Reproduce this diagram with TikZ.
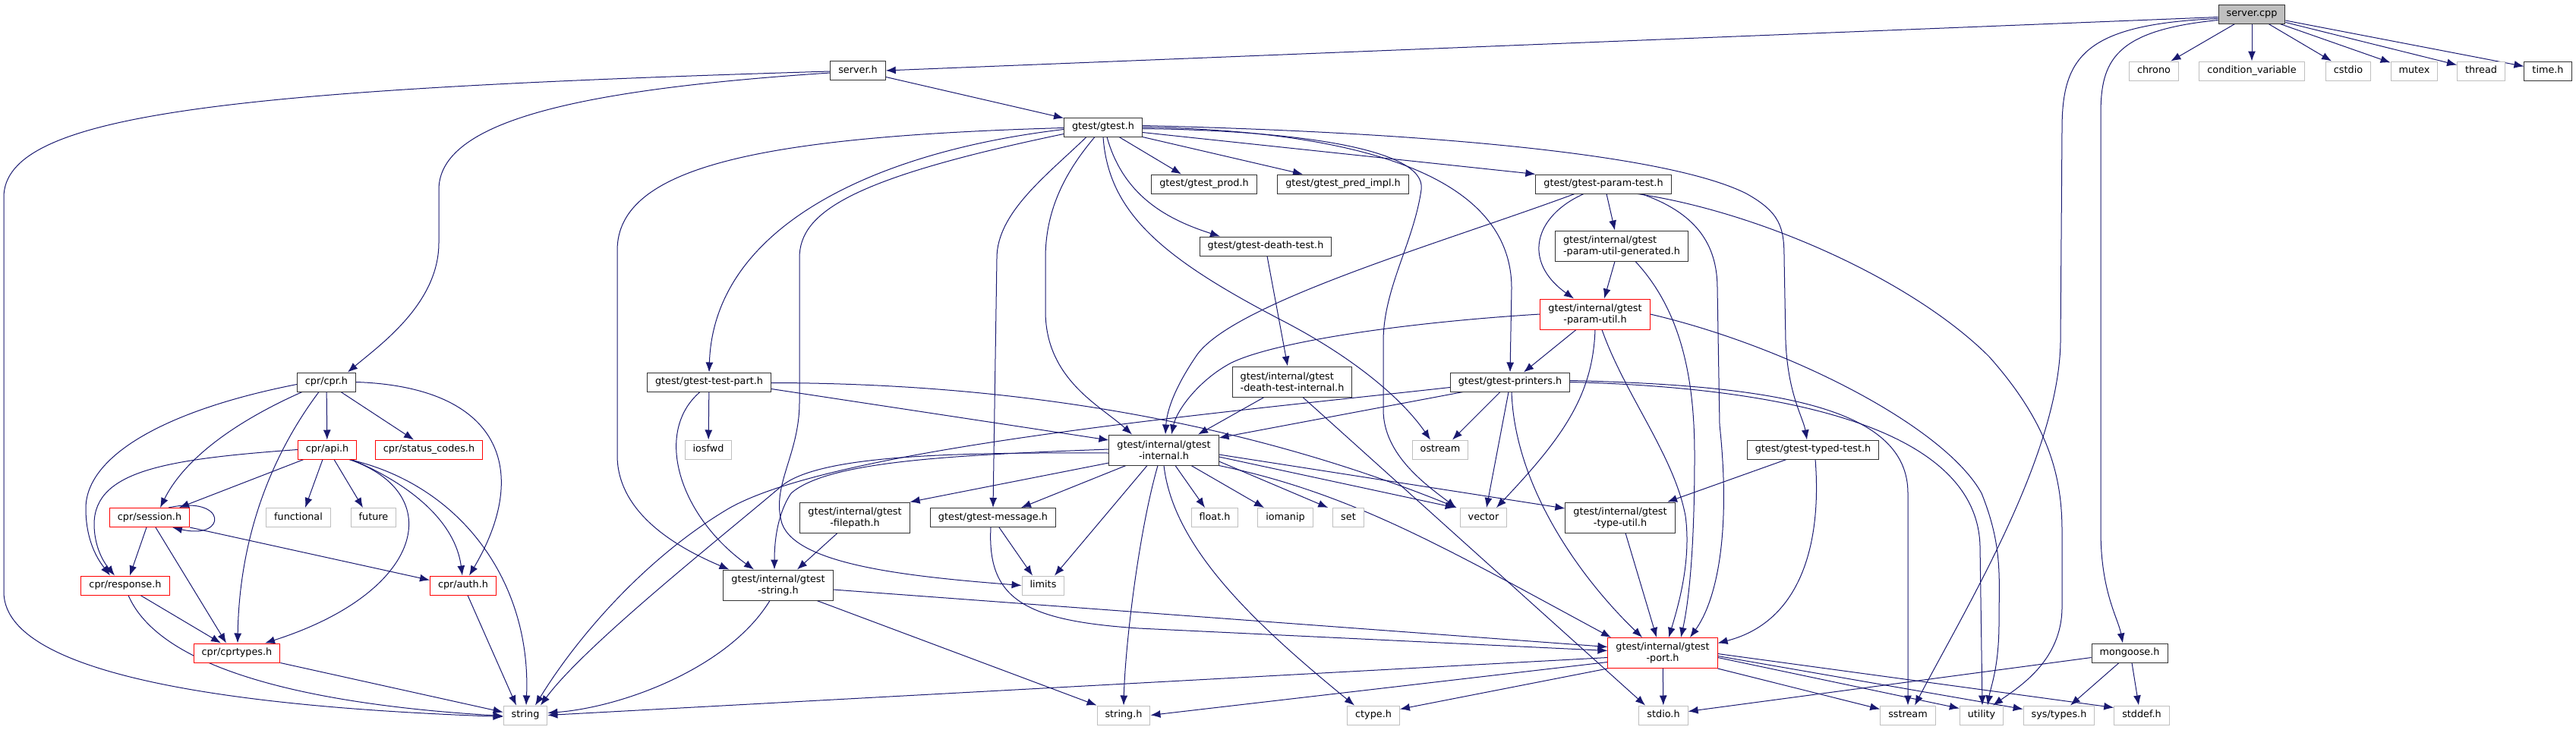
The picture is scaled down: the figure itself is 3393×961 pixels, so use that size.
\documentclass[tikz,border=0pt]{standalone}
\usepackage{fontspec}
\setmainfont{DejaVu Sans}
\usepackage{tikz}
\usetikzlibrary{arrows.meta}
\pgfdeclarelayer{background}
\pgfsetlayers{background,main}
\definecolor{edgeblue}{HTML}{191970}
\definecolor{docline}{HTML}{333333}
\definecolor{sysline}{HTML}{BFBFBF}
\definecolor{cutline}{HTML}{FF0000}
\definecolor{rootfill}{HTML}{BFBFBF}
\newcommand{\nodefont}{\fontsize{12.8}{15}\selectfont}
\tikzstyle{hbox} = [fill=white, font=\nodefont, inner xsep=10.5pt, inner ysep=0pt, line width=1pt]
\tikzstyle{onebox} = [hbox, minimum height=25pt, text height=9.6pt, text depth=3pt]
\tikzstyle{pairbox} = [hbox, minimum height=40pt, align=center]
\tikzstyle{dochdr} = [onebox, draw=docline]
\tikzstyle{syshdr} = [onebox, draw=sysline]
\tikzstyle{cuthdr} = [onebox, draw=cutline]
\tikzstyle{rootfile} = [onebox, draw=docline, fill=rootfill]
\tikzstyle{docpair} = [pairbox, draw=docline]
\tikzstyle{cutpair} = [pairbox, draw=cutline]
\tikzstyle{line} = [draw, line width=1pt, color=edgeblue, -{Latex[length=13pt,width=10pt]}]
\newcommand{\rootfile}[2]{node (#1)[rootfile]{#2}}
\newcommand{\dochdr}[2]{node (#1)[dochdr]{#2}}
\newcommand{\syshdr}[2]{node (#1)[syshdr]{#2}}
\newcommand{\cuthdr}[2]{node (#1)[cuthdr]{#2}}
\newcommand{\docpair}[2]{node (#1)[docpair]{#2}}
\newcommand{\docpairl}[2]{node (#1)[docpair,align=left]{#2}}
\newcommand{\cutpair}[2]{node (#1)[cutpair]{#2}}

\begin{document}
\begin{tikzpicture}[x=1pt,y=-1pt]
	\useasboundingbox (0,0) rectangle (3393,961);

	% Draw diagram elements
	\path (2966,18.5) \rootfile{sc}{server.cpp};
	\path (2837,93.5) \syshdr{chrono}{chrono};
	\path (2966,93.5) \syshdr{condvar}{condition\_variable};
	\path (3093,93.5) \syshdr{cstdio}{cstdio};
	\path (3180,93.5) \syshdr{mutex}{mutex};
	\path (3268,93.5) \syshdr{thread}{thread};
	\path (3356,93.5) \dochdr{timeh}{time.h};
	\path (1130,93) \dochdr{serverh}{server.h};
	\path (1453,167.5) \dochdr{gtest}{gtest/gtest.h};
	\path (1586,242.5) \dochdr{prod}{gtest/gtest\_prod.h};
	\path (1769,242.5) \dochdr{predimpl}{gtest/gtest\_pred\_impl.h};
	\path (2112,242.5) \dochdr{paramtest}{gtest/gtest-param-test.h};
	\path (1667,324.5) \dochdr{deathtest}{gtest/gtest-death-test.h};
	\path (2136,324) \docpairl{generated}{gtest/internal/gtest\\-param-util-generated.h};
	\path (2101,414) \cutpair{paramutil}{gtest/internal/gtest\\-param-util.h};
	\path (1702,503) \docpairl{deathint}{gtest/internal/gtest\\-death-test-internal.h};
	\path (1989,503.5) \dochdr{printers}{gtest/gtest-printers.h};
	\path (934,503.5) \dochdr{testpart}{gtest/gtest-test-part.h};
	\path (430,503.5) \dochdr{cpr}{cpr/cpr.h};
	\path (431,592.5) \cuthdr{api}{cpr/api.h};
	\path (565,592.5) \cuthdr{status}{cpr/status\_codes.h};
	\path (933,592.5) \syshdr{iosfwd}{iosfwd};
	\path (1533,593) \docpair{internal}{gtest/internal/gtest\\-internal.h};
	\path (2388,592.5) \dochdr{typedtest}{gtest/gtest-typed-test.h};
	\path (1897,592.5) \syshdr{ostream}{ostream};
	\path (197,682) \cuthdr{session}{cpr/session.h};
	\path (393,682) \syshdr{functional}{functional};
	\path (492,682) \syshdr{future}{future};
	\path (1126,682) \docpair{filepath}{gtest/internal/gtest\\-filepath.h};
	\path (1308,682) \dochdr{message}{gtest/gtest-message.h};
	\path (1600,682) \syshdr{floath}{float.h};
	\path (1693,682) \syshdr{iomanip}{iomanip};
	\path (1776,682) \syshdr{set}{set};
	\path (1954,682) \syshdr{vector}{vector};
	\path (2134,682) \docpair{typeutil}{gtest/internal/gtest\\-type-util.h};
	\path (165,771.5) \cuthdr{response}{cpr/response.h};
	\path (610,771.5) \cuthdr{auth}{cpr/auth.h};
	\path (1374,771.5) \syshdr{limits}{limits};
	\path (1025,771) \docpair{gstring}{gtest/internal/gtest\\-string.h};
	\path (312,860.5) \cuthdr{cprtypes}{cpr/cprtypes.h};
	\path (2190,860.5) \cutpair{port}{gtest/internal/gtest\\-port.h};
	\path (2805,860.5) \dochdr{mongoose}{mongoose.h};
	\path (692,942.5) \syshdr{string}{string};
	\path (1480,942.5) \syshdr{stringh}{string.h};
	\path (1809,942.5) \syshdr{ctype}{ctype.h};
	\path (2191,942.5) \syshdr{stdio}{stdio.h};
	\path (2513,942.5) \syshdr{sstream}{sstream};
	\path (2610,942.5) \syshdr{utility}{utility};
	\path (2712,942.5) \syshdr{systypes}{sys/types.h};
	\path (2821,942.5) \syshdr{stddef}{stddef.h};

	% Draw arrows between elements
	\begin{pgfonlayer}{background}
	% server.cpp
	\path [line] ([yshift=-4pt]sc.west) -- (serverh.east);
	\path [line] (sc) -- (chrono);
	\path [line] (sc) -- (condvar);
	\path [line] (sc) -- (cstdio);
	\path [line] (sc) -- (mutex);
	\path [line] (sc) -- (thread);
	\path [line] (sc) -- (timeh);
	\path [line] ([yshift=-6pt]sc.west) .. controls (2745,32) and (2716,75) .. (2716,170) -- (2714,450) .. controls (2712,600) and (2590,800) .. ([xshift=9pt]sstream.north);
	\path [line] ([yshift=-8pt]sc.west) .. controls (2785,40) and (2767,80) .. (2767,150) -- (2767,700) .. controls (2767,780) and (2790,815) .. ([xshift=-9pt]mongoose.north);
	% server.h
	\path [line] (serverh) -- (gtest);
	\path [line] ([yshift=-3pt]serverh.west) .. controls (760,118) and (578,160) .. (578,250) -- (578,320) .. controls (578,400) and (500,455) .. ([xshift=28pt]cpr.north);
	\path [line] ([yshift=-1pt]serverh.west) .. controls (300,118) and (5,150) .. (5,260) -- (5,780) .. controls (5,905) and (400,935) .. ([yshift=-2pt]string.west);
	% gtest.h
	\path [line] ([yshift=-3pt]gtest.west) .. controls (1150,200) and (940,300) .. (testpart.north);
	\path [line] ([yshift=-1pt]gtest.west) .. controls (1000,180) and (813,220) .. (813,330) -- (813,600) .. controls (813,680) and (900,725) .. ([xshift=8pt]gstring.north west);
	\path [line] ([yshift=-9pt]gtest.west) .. controls (1120,235) and (1053,280) .. (1053,340) -- (1053,530) .. controls (1053,600) and (1015,640) .. (1030,690) .. controls (1050,745) and (1200,760) .. (limits.west);
	\path [line] ([xshift=-22pt]gtest.south) .. controls (1380,230) and (1313,280) .. (1313,340) -- (message.north);
	\path [line] ([xshift=-11pt]gtest.south) .. controls (1400,230) and (1377,280) .. (1377,340) -- (1377,410) .. controls (1377,500) and (1450,535) .. ([xshift=-42pt]internal.north);
	\path [line] (gtest.south) .. controls (1460,280) and (1530,340) .. (1690,423) .. controls (1790,475) and (1850,530) .. ([xshift=-13pt]ostream.north);
	\path [line] ([xshift=5pt]gtest.south) .. controls (1480,260) and (1540,290) .. ([xshift=-60pt]deathtest.north);
	\path [line] ([xshift=21pt]gtest.south) -- ([xshift=-30pt]prod.north);
	\path [line] (gtest.south east) -- ([xshift=-53pt]predimpl.north);
	\path [line] ([yshift=-7pt]gtest.east) -- (paramtest.north west);
	\path [line] ([yshift=-2pt]gtest.east) .. controls (1700,172) and (1880,195) .. (1872,250) .. controls (1862,320) and (1822,380) .. (1822,450) -- (1822,540) .. controls (1822,600) and (1880,640) .. ([xshift=-5pt]vector.north west);
	\path [line] (gtest.east) .. controls (1760,172) and (1991,220) .. (1991,380) -- (printers.north);
	\path [line] ([yshift=2pt]gtest.east) .. controls (1900,175) and (2200,205) .. (2300,255) .. controls (2345,280) and (2350,300) .. (2350,340) -- (2352,450) .. controls (2355,520) and (2375,550) .. ([xshift=-8pt]typedtest.north);
	% gtest-param-test.h
	\path [line] ([xshift=-38pt]paramtest.south) .. controls (1900,320) and (1620,400) .. (1575,470) .. controls (1548,510) and (1537,540) .. ([xshift=2pt]internal.north);
	\path [line] ([xshift=4pt]paramtest.south) -- ([xshift=-9pt]generated.north);
	\path [line] ([xshift=-26pt]paramtest.south) .. controls (2020,285) and (2005,345) .. ([xshift=-28pt]paramutil.north);
	\path [line] ([xshift=50pt]paramtest.south) .. controls (2232,280) and (2262,320) .. (2262,380) -- (2265,560) .. controls (2280,700) and (2262,790) .. ([xshift=36pt]port.north);
	\path [line] ([xshift=45pt]paramtest.south) .. controls (2320,280) and (2520,370) .. (2620,470) .. controls (2700,560) and (2716,630) .. (2716,700) -- (2716,800) .. controls (2716,870) and (2660,905) .. ([xshift=15pt]utility.north);
	% gtest-param-util-generated.h
	\path [line] ([xshift=-9pt]generated.south) -- ([xshift=12pt]paramutil.north);
	\path [line] ([xshift=18pt]generated.south) .. controls (2215,410) and (2232,500) .. (2232,600) .. controls (2232,720) and (2225,790) .. ([xshift=24pt]port.north);
	% gtest-param-util.h
	\path [line] ([xshift=-25pt]paramutil.south) -- ([xshift=18pt]printers.north);
	\path [line] (paramutil.west) .. controls (1850,425) and (1680,450) .. (1622,478) .. controls (1580,500) and (1550,540) .. ([xshift=10pt]internal.north);
	\path [line] (paramutil.south) .. controls (2098,520) and (2060,575) .. ([xshift=17pt]vector.north);
	\path [line] ([xshift=9pt]paramutil.south) .. controls (2140,520) and (2205,600) .. (2220,680) .. controls (2228,740) and (2210,800) .. ([xshift=8pt]port.north);
	\path [line] (paramutil.east) .. controls (2350,455) and (2560,560) .. (2610,650) .. controls (2638,720) and (2633,760) .. (2633,820) .. controls (2633,880) and (2622,905) .. ([xshift=8pt]utility.north);
	% gtest-death-test.h
	\path [line] ([xshift=2pt]deathtest.south) -- ([xshift=-6pt]deathint.north);
	\path [line] ([xshift=-37pt]deathint.south) -- ([xshift=45pt]internal.north);
	\path [line] ([xshift=14pt]deathint.south) -- ([xshift=-24pt]stdio.north);
	% gtest-printers.h
	\path [line] ([xshift=-13pt]printers.south) -- ([xshift=16pt]ostream.north);
	\path [line] ([xshift=-2pt]printers.south) -- ([xshift=4pt]vector.north);
	\path [line] ([xshift=2pt]printers.south) .. controls (1995,640) and (2080,760) .. ([xshift=-27pt]port.north);
	\path [line] ([xshift=-62pt]printers.south) -- ([yshift=16pt]internal.east);
	\path [line] ([yshift=-7pt]printers.west) .. controls (1600,545) and (1100,590) .. (960,670) .. controls (850,735) and (760,840) .. ([xshift=13pt]string.north);
	\path [line] ([yshift=2pt]printers.east) .. controls (2350,508) and (2513,540) .. (2513,650) -- (sstream.north);
	\path [line] (printers.east) .. controls (2400,512) and (2605,580) .. (2608,720) -- ([xshift=1pt]utility.north);
	% gtest-test-part.h
	\path [line] (testpart) -- (iosfwd);
	\path [line] ([yshift=-9pt]testpart.east) -- ([yshift=13pt]internal.west);
	\path [line] ([yshift=-1pt]testpart.east) .. controls (1350,505) and (1650,560) .. ([xshift=-4pt]vector.north west);
	\path [line] ([xshift=-12pt]testpart.south) .. controls (860,570) and (895,680) .. ([xshift=-32pt]gstring.north);
	% cpr.h
	\path [line] ([yshift=-3pt]cpr.west) .. controls (220,540) and (113,600) .. (113,670) .. controls (113,720) and (135,745) .. ([xshift=-20pt]response.north);
	\path [line] ([xshift=-32pt]cpr.south) .. controls (300,560) and (240,610) .. ([xshift=14pt]session.north);
	\path [line] ([xshift=-10pt]cpr.south) .. controls (350,610) and (315,720) .. ([xshift=1pt]cprtypes.north);
	\path [line] (cpr) -- (api);
	\path [line] ([xshift=19pt]cpr.south) -- ([xshift=-20pt]status.north);
	\path [line] (cpr.east) .. controls (660,510) and (700,620) .. ([xshift=8pt]auth.north);
	% api.h
	\path [line] (api.west) .. controls (220,605) and (125,620) .. (124,690) .. controls (124,725) and (140,745) .. ([xshift=-14pt]response.north);
	\path [line] ([xshift=-31pt]api.south) -- ([xshift=39pt]session.north);
	\path [line] ([xshift=-6pt]api.south) -- ([xshift=9pt]functional.north);
	\path [line] ([xshift=9pt]api.south) -- ([xshift=-14pt]future.north);
	\path [line] ([xshift=29pt]api.south) .. controls (610,640) and (700,770) .. ([xshift=1pt]string.north);
	\path [line] ([xshift=32pt]api.south) .. controls (545,640) and (600,690) .. ([xshift=-1pt]auth.north);
	\path [line] ([xshift=29pt]api.south) .. controls (590,650) and (560,780) .. ([xshift=37pt]cprtypes.north);
	% session.h
	\path [line] ([xshift=25pt]session.north) .. controls (300,652) and (300,712) .. ([xshift=30pt]session.south);
	\path [line] ([xshift=-4pt]session.south) -- ([xshift=6pt]response.north);
	\path [line] ([xshift=8pt]session.south) -- ([xshift=-14pt]cprtypes.north);
	\path [line] (session.south east) -- ([yshift=7pt]auth.west);
	% response.h, cprtypes.h, auth.h
	\path [line] ([xshift=20pt]response.south) -- ([xshift=-21pt]cprtypes.north);
	\path [line] ([xshift=4pt]response.south) .. controls (210,880) and (400,928) .. ([yshift=-1pt]string.west);
	\path [line] (cprtypes.south east) -- ([yshift=4pt]string.west);
	\path [line] ([xshift=6pt]auth.south) -- ([xshift=-12pt]string.north);
	% gtest-internal.h
	\path [line] ([yshift=-17pt]internal.west) -- (filepath.north east);
	\path [line] ([xshift=-50pt]internal.south) -- ([xshift=37pt]message.north);
	\path [line] ([xshift=-22pt]internal.south) -- ([xshift=15pt]limits.north);
	\path [line] ([xshift=-8pt]internal.south) .. controls (1500,700) and (1482,850) .. (stringh.north);
	\path [line] (internal.south) .. controls (1545,720) and (1650,820) .. ([xshift=-25pt]ctype.north);
	\path [line] ([xshift=15pt]internal.south) -- ([xshift=-13pt]floath.north);
	\path [line] ([xshift=36pt]internal.south) -- ([xshift=-28pt]iomanip.north);
	\path [line] ([yshift=-15pt]internal.east) -- ([xshift=-6pt]set.north west);
	\path [line] ([yshift=-9pt]internal.east) -- ([xshift=-6pt]vector.north west);
	\path [line] ([yshift=-6pt]internal.east) -- ([yshift=12pt]typeutil.west);
	\path [line] (internal.south east) .. controls (1780,650) and (1900,720) .. ([xshift=-68pt]port.north);
	\path [line] ([yshift=1pt]internal.west) .. controls (1250,600) and (1090,608) .. (1042,650) .. controls (1022,680) and (1020,720) .. ([xshift=-5pt]gstring.north);
	\path [line] ([yshift=-4pt]internal.west) .. controls (1250,596) and (1080,600) .. (1030,640) .. controls (960,700) and (770,850) .. ([xshift=20pt]string.north);
	% gtest-filepath.h, gtest-message.h
	\path [line] ([xshift=-23pt]filepath.south) -- ([xshift=25pt]gstring.north);
	\path [line] ([xshift=8pt]message.south) -- ([xshift=-14pt]limits.north);
	\path [line] ([xshift=-3pt]message.south) .. controls (1300,790) and (1350,818) .. (1500,828) -- ([yshift=3pt]port.west);
	% gtest-string.h
	\path [line] ([yshift=-6pt]gstring.east) -- ([yshift=8pt]port.west);
	\path [line] ([xshift=51pt]gstring.south) -- (stringh.north west);
	\path [line] ([xshift=-11pt]gstring.south) .. controls (960,880) and (820,932) .. ([yshift=3pt]string.east);
	% gtest-type-util.h, gtest-typed-test.h
	\path [line] ([xshift=7pt]typeutil.south) -- ([xshift=-8pt]port.north);
	\path [line] ([xshift=-35pt]typedtest.south) -- ([xshift=62pt]typeutil.north);
	\path [line] ([xshift=3pt]typedtest.south) .. controls (2400,720) and (2370,820) .. ([yshift=13pt]port.east);
	% gtest-port.h
	\path [line] ([yshift=-6pt]port.west) -- (string.east);
	\path [line] ([yshift=-12pt]port.west) -- (stringh.east);
	\path [line] (port.south west) -- ([yshift=8pt]ctype.east);
	\path [line] (port) -- (stdio);
	\path [line] (port.south east) -- ([yshift=8pt]sstream.west);
	\path [line] ([yshift=-6pt]port.east) -- ([yshift=9pt]utility.west);
	\path [line] ([yshift=-4pt]port.east) -- ([yshift=8pt]systypes.west);
	\path [line] ([yshift=-1pt]port.east) -- ([yshift=10pt]stddef.west);
	% mongoose.h
	\path [line] ([yshift=-6pt]mongoose.west) -- ([yshift=5pt]stdio.east);
	\path [line] ([xshift=-14pt]mongoose.south) -- ([xshift=15pt]systypes.north);
	\path [line] ([xshift=3pt]mongoose.south) -- ([xshift=-4pt]stddef.north);
	\end{pgfonlayer}
\end{tikzpicture}
\end{document}
